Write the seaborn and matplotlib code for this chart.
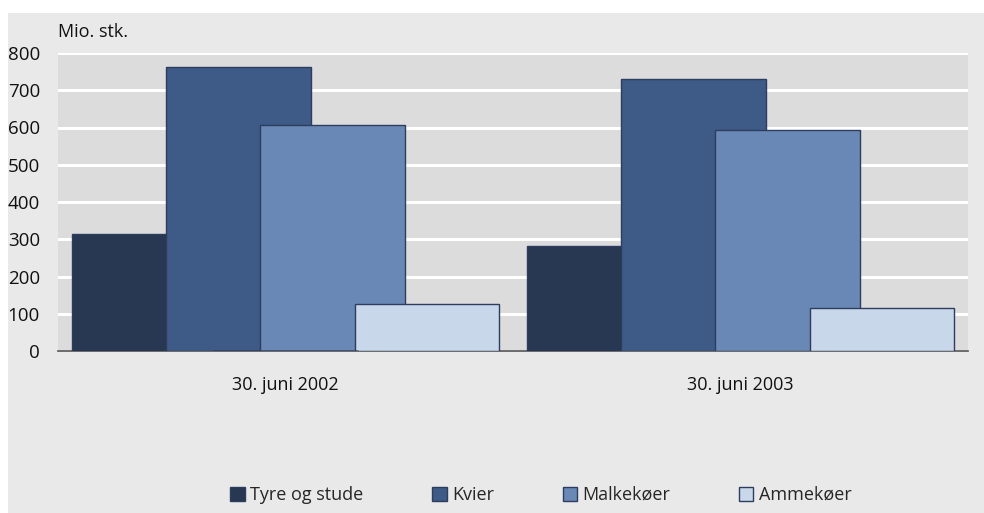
import matplotlib
matplotlib.use("Agg")
import matplotlib.pyplot as plt
import seaborn as sns
import pandas as pd
from matplotlib.patches import Rectangle

categories = ["30. juni 2002", "30. juni 2003"]
series = ["Tyre og stude", "Kvier", "Malkekøer", "Ammekøer"]
tyre = [314, 282]
kvier = [762, 730]
malk = [607, 593]
amme = [126, 115]
colors = ["#283752", "#3e5a86", "#6a88b6", "#c8d7ea"]
yticks = [0, 100, 200, 300, 400, 500, 600, 700, 800]

rows = []
for s, vals in zip(series, [tyre, kvier, malk, amme]):
    for c, v in zip(categories, vals):
        rows.append({"dato": c, "type": s, "verdi": v})
df = pd.DataFrame(rows)

sns.set_theme(style="white")
plt.rcParams["font.family"] = ["Liberation Sans Narrow", "Open Sans", "DejaVu Sans"]

fig = plt.figure(figsize=(9.84, 5.13), dpi=100, facecolor="white")
fig.patches.append(Rectangle((8/984, 0), 1 - 8/984, 1 - 13/513, transform=fig.transFigure,
                             facecolor="#e9e9e9", edgecolor="none", zorder=-10))
ax = fig.add_axes([58/984, 1 - 351/513, 910/984, (351 - 53)/513])
ax.set_facecolor("#dcdcdc")

step = 0.2066
sns.barplot(data=df, x="dato", y="verdi", hue="type", hue_order=series,
            palette=colors, width=4 * step, ax=ax, edgecolor="#2c3d5e",
            linewidth=1.0, saturation=1, legend=True, zorder=3)

new_w = 0.3165
for p in ax.patches:
    cx = p.get_x() + p.get_width() / 2
    p.set_width(new_w)
    p.set_x(cx - new_w / 2)

ax.set_ylim(0, 800)
ax.set_xlim(-0.5, 1.5)
ax.set_yticks(yticks)
ax.set_yticklabels([str(t) for t in yticks], fontsize=13.5, color="#111111")
ax.yaxis.grid(True, color="white", linewidth=2.2, zorder=0)
ax.set_axisbelow(True)
ax.tick_params(axis="y", length=0, pad=13)
ax.tick_params(axis="x", length=0, pad=18, labelsize=13, labelcolor="#111111")
for lbl in ax.get_yticklabels():
    lbl.set_horizontalalignment("right")
ax.set_xlabel("")
ax.set_ylabel("")
for s in ["top", "right", "left"]:
    ax.spines[s].set_visible(False)
ax.spines["bottom"].set_color("#555555")
ax.spines["bottom"].set_linewidth(1.2)

fig.text(58/984, 1 - 32/513, "Mio. stk.", fontsize=13, color="#111111", va="center", ha="left")

handles, labels = ax.get_legend_handles_labels()
ax.get_legend().remove()
fig.legend(handles, labels, loc="center", bbox_to_anchor=(541/984, 1 - 495/513), ncol=4,
           frameon=False, fontsize=13, handlelength=0.8, handleheight=0.8,
           handletextpad=0.3, columnspacing=3.8, borderaxespad=0)

fig.savefig("out.png", dpi=100, facecolor="white")
